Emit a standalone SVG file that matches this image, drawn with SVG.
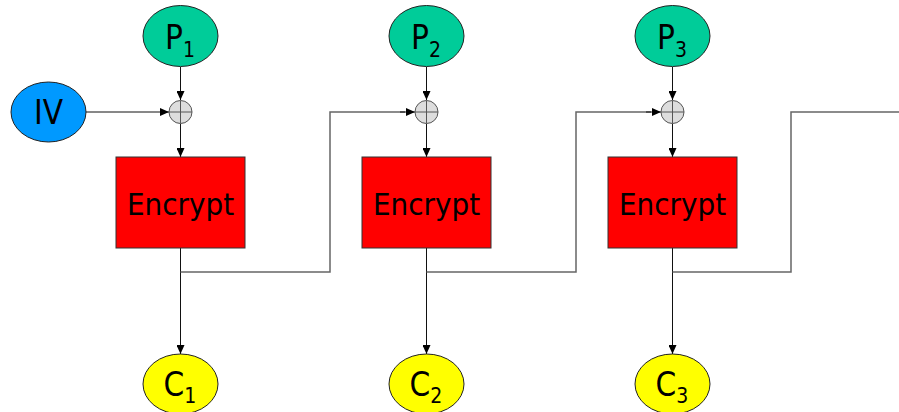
<svg xmlns="http://www.w3.org/2000/svg" width="899" height="412" viewBox="0 0 899 412">
<defs>
<marker id="ah" markerWidth="10" markerHeight="8" refX="9" refY="4" orient="auto" markerUnits="userSpaceOnUse">
<path d="M0,0 L9,4 L0,8 Z" fill="#000"/>
</marker>
</defs>
<style>
.p{fill:#00CC99;stroke:#222;stroke-width:1}
.iv{fill:#0099FF;stroke:#222;stroke-width:1}
.c{fill:#FFFF00;stroke:#222;stroke-width:1}
.box{fill:#FF0000;stroke:#333;stroke-width:1}
.xor{fill:#DDDDDD;stroke:#555;stroke-width:1}
.xl{stroke:#555;stroke-width:1;fill:none}
.t{font-family:"DejaVu Sans Condensed","DejaVu Sans","Liberation Sans",sans-serif;fill:#000}
.big{font-size:33px}
.sub{font-size:21px}
.enc{font-size:31px}
.fb{stroke:#666;stroke-width:1.5;fill:none}
.ar{stroke:#111;stroke-width:1;fill:none;marker-end:url(#ah)}
</style>
<rect width="899" height="412" fill="#fff"/>
<g id="connectors">
<line class="ar" x1="180.5" y1="67" x2="180.5" y2="100"/>
<line class="ar" x1="86" y1="112" x2="169" y2="112"/>
<line class="ar" x1="180.5" y1="123.5" x2="180.5" y2="157"/>
<line class="ar" x1="180.5" y1="248" x2="180.5" y2="354"/>
<polyline class="fb" points="180.5,272 330,272 330,112 405,112"/>
<line class="ar" x1="400" y1="112" x2="415" y2="112"/>
<line class="ar" x1="426.5" y1="67" x2="426.5" y2="100"/>
<line class="ar" x1="426.5" y1="123.5" x2="426.5" y2="157"/>
<line class="ar" x1="426.5" y1="248" x2="426.5" y2="354"/>
<polyline class="fb" points="426.5,272 576,272 576,112 651,112"/>
<line class="ar" x1="646" y1="112" x2="661" y2="112"/>
<line class="ar" x1="672.5" y1="67" x2="672.5" y2="100"/>
<line class="ar" x1="672.5" y1="123.5" x2="672.5" y2="157"/>
<line class="ar" x1="672.5" y1="248" x2="672.5" y2="354"/>
<polyline class="fb" points="672.5,272 791,272 791,112 899,112"/>
</g>
<g id="IV">
<ellipse class="iv" cx="48.5" cy="112" rx="37.5" ry="30"/>
<text class="t big" x="48.5" y="123.5" text-anchor="middle">IV</text>
</g>
<g id="P1">
<ellipse class="p" cx="180.5" cy="36" rx="37.5" ry="30.5"/>
<text class="t" x="180" y="49" text-anchor="middle"><tspan class="big">P</tspan><tspan class="sub" dy="8">1</tspan></text>
</g>
<g id="P2">
<ellipse class="p" cx="426.5" cy="36" rx="37.5" ry="30.5"/>
<text class="t" x="426" y="49" text-anchor="middle"><tspan class="big">P</tspan><tspan class="sub" dy="8">2</tspan></text>
</g>
<g id="P3">
<ellipse class="p" cx="672.5" cy="36" rx="37.5" ry="30.5"/>
<text class="t" x="672" y="49" text-anchor="middle"><tspan class="big">P</tspan><tspan class="sub" dy="8">3</tspan></text>
</g>
<g id="XOR1">
<circle class="xor" cx="180.5" cy="112" r="11.5"/>
<path class="xl" d="M169,112 H192 M180.5,100.5 V123.5"/>
</g>
<g id="XOR2">
<circle class="xor" cx="426.5" cy="112" r="11.5"/>
<path class="xl" d="M415,112 H438 M426.5,100.5 V123.5"/>
</g>
<g id="XOR3">
<circle class="xor" cx="672.5" cy="112" r="11.5"/>
<path class="xl" d="M661,112 H684 M672.5,100.5 V123.5"/>
</g>
<g id="Encrypt1">
<rect class="box" x="116" y="157" width="129" height="91"/>
<text class="t enc" x="180.5" y="214.5" text-anchor="middle">Encrypt</text>
</g>
<g id="Encrypt2">
<rect class="box" x="362" y="157" width="129" height="91"/>
<text class="t enc" x="426.5" y="214.5" text-anchor="middle">Encrypt</text>
</g>
<g id="Encrypt3">
<rect class="box" x="608" y="157" width="129" height="91"/>
<text class="t enc" x="672.5" y="214.5" text-anchor="middle">Encrypt</text>
</g>
<g id="C1">
<ellipse class="c" cx="180.5" cy="384" rx="37.5" ry="30"/>
<text class="t" x="180" y="396" text-anchor="middle"><tspan class="big">C</tspan><tspan class="sub" dy="7">1</tspan></text>
</g>
<g id="C2">
<ellipse class="c" cx="426.5" cy="384" rx="37.5" ry="30"/>
<text class="t" x="426" y="396" text-anchor="middle"><tspan class="big">C</tspan><tspan class="sub" dy="7">2</tspan></text>
</g>
<g id="C3">
<ellipse class="c" cx="672.5" cy="384" rx="37.5" ry="30"/>
<text class="t" x="672" y="396" text-anchor="middle"><tspan class="big">C</tspan><tspan class="sub" dy="7">3</tspan></text>
</g>
</svg>
